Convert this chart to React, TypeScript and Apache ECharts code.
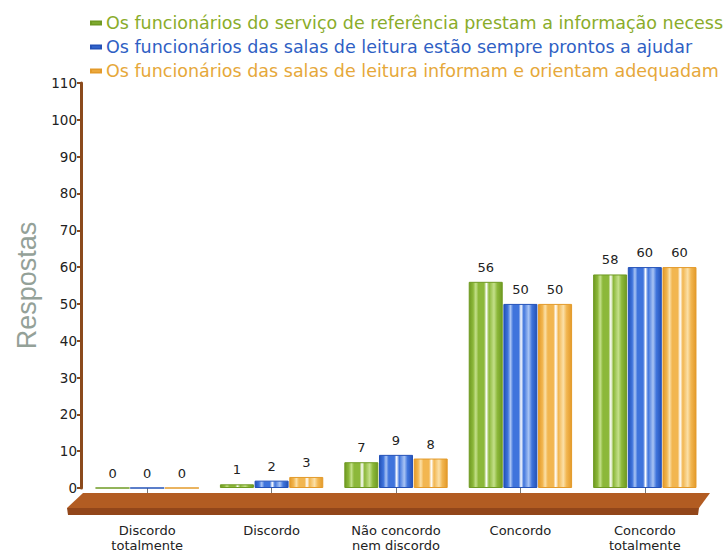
import React, { useEffect, useRef } from "react";
import * as echarts from "echarts";

const categories = [
  "Discordo\ntotalmente",
  "Discordo",
  "Não concordo\nnem discordo",
  "Concordo",
  "Concordo\ntotalmente",
];
const seriesNames = [
  "Os funcionários do serviço de referência prestam a informação necessária",
  "Os funcionários das salas de leitura estão sempre prontos a ajudar",
  "Os funcionários das salas de leitura informam e orientam adequadamente",
];
const referenceValues = [0, 1, 7, 56, 58];
const readyValues = [0, 2, 9, 50, 60];
const informValues = [0, 3, 8, 50, 60];
const yTicks = { min: 0, max: 110, interval: 10 };

const palette = [
  { base: "#8cb83a", light: "#c4e08a", dark: "#6f9a22", text: "#8aac2a" },
  { base: "#3f74dc", light: "#a9c4f4", dark: "#2452b8", text: "#2f5fc4" },
  { base: "#f2b650", light: "#fbe0a8", dark: "#e39a2a", text: "#e6a83a" },
];
const legendWidths = [650, 632, 618];

function stripes(c: { base: string; light: string; dark: string }) {
  return new echarts.graphic.LinearGradient(0, 0, 1, 0, [
    { offset: 0, color: c.dark },
    { offset: 0.12, color: c.base },
    { offset: 0.2, color: c.light },
    { offset: 0.28, color: c.base },
    { offset: 0.45, color: c.base },
    { offset: 0.52, color: "#ffffff" },
    { offset: 0.6, color: c.base },
    { offset: 0.75, color: c.light },
    { offset: 0.85, color: c.base },
    { offset: 1, color: c.dark },
  ]);
}

const GRID_LEFT = 85;
const GRID_RIGHT = 18;
const GRID_TOP = 83;
const GRID_BOTTOM = 60;

export default function App() {
  const ref = useRef<HTMLDivElement>(null);
  useEffect(() => {
    if (!ref.current) return;
    const chart = echarts.init(ref.current, undefined, { renderer: "svg" });
    const W = 725;
    const H = 553;
    const baseY = H - GRID_BOTTOM;
    const dataSets = [referenceValues, readyValues, informValues];
    chart.setOption({
      animation: false,
      backgroundColor: "#ffffff",
      textStyle: { fontFamily: "DejaVu Sans" },
      legend: {
        orient: "vertical",
        left: 85,
        top: 9,
        itemWidth: 10,
        itemHeight: 3,
        itemGap: 6,
        icon: "rect",
        selectedMode: false,
        data: seriesNames.map((n, i) => ({
          name: n,
          itemStyle: { color: palette[i].base },
          textStyle: {
            color: palette[i].text,
            width: legendWidths[i],
            overflow: "truncate",
            ellipsis: "",
          },
        })),
        textStyle: {
          fontSize: 17.5,
          fontFamily: "DejaVu Sans",
          lineHeight: 18,
          overflow: "truncate",
          ellipsis: "",
        },
      },
      grid: { left: GRID_LEFT, right: GRID_RIGHT, top: GRID_TOP, bottom: GRID_BOTTOM },
      xAxis: {
        type: "category",
        data: categories,
        axisLine: { show: false },
        axisTick: { show: true, alignWithLabel: true, length: 27, lineStyle: { color: "#777" } },
        axisLabel: {
          margin: 35,
          fontSize: 13,
          lineHeight: 15,
          color: "#222",
          fontFamily: "DejaVu Sans",
        },
      },
      yAxis: {
        type: "value",
        min: yTicks.min,
        max: yTicks.max,
        interval: yTicks.interval,
        offset: 4,
        name: "Respostas",
        nameLocation: "middle",
        nameGap: 40,
        nameTextStyle: { fontSize: 27, color: "#94a198", fontFamily: "Liberation Sans" },
        axisLine: { show: true, lineStyle: { color: "#8b4a1c", width: 3 } },
        axisTick: { show: true, length: 4, lineStyle: { color: "#8b4a1c", width: 2 } },
        splitLine: { show: false },
        axisLabel: { fontSize: 13.5, color: "#222", margin: 4, fontFamily: "DejaVu Sans" },
      },
      graphic: [
        {
          type: "polygon",
          z: 100,
          silent: true,
          shape: {
            points: [
              [83, baseY],
              [W - GRID_RIGHT + 3, baseY],
              [W - GRID_RIGHT - 8, baseY + 15],
              [67, baseY + 15],
            ],
          },
          style: { fill: "#b25c22" },
        },
        {
          type: "polygon",
          z: 100,
          silent: true,
          shape: {
            points: [
              [67, baseY + 15],
              [W - GRID_RIGHT - 8, baseY + 15],
              [W - GRID_RIGHT - 9, baseY + 22],
              [68, baseY + 22],
            ],
          },
          style: { fill: "#92461a" },
        },
      ],
      series: dataSets.map((d, i) => ({
        name: seriesNames[i],
        type: "bar",
        data: d,
        barWidth: 34,
        barGap: "2%",
        itemStyle: {
          color: stripes(palette[i]),
          borderColor: palette[i].dark,
          borderWidth: 1,
        },
        label: {
          show: true,
          position: "top",
          distance: 8,
          fontSize: 13,
          color: "#222",
          fontFamily: "DejaVu Sans",
        },
      })),
    });
    return () => chart.dispose();
  }, []);
  return <div ref={ref} style={{ width: 725, height: 553, position: "absolute", left: 0, top: 0 }} />;
}
